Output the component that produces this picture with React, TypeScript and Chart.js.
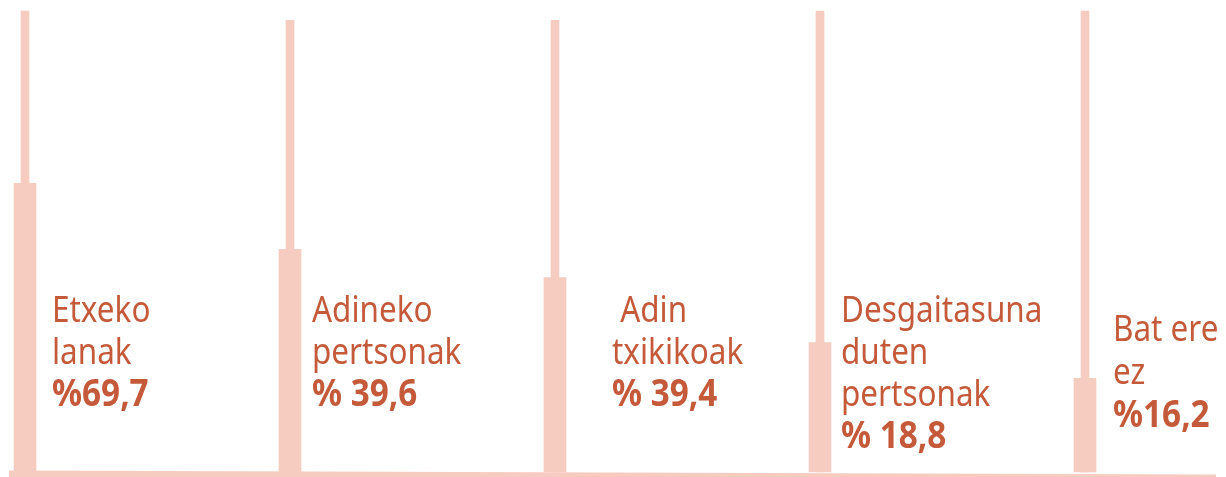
import React, { useEffect, useRef } from "react";
import { Chart, registerables } from "chart.js";

Chart.register(...registerables);

// Categories (multi-line labels, as written in the picture)
const categories: string[][] = [
  ["Etxeko", "lanak"],
  ["Adineko", "pertsonak"],
  [" Adin", "txikikoak"],
  ["Desgaitasuna", "duten", "pertsonak"],
  ["Bat ere", "ez"],
];

// Shares shown in the labels (%)
const shares: number[] = [69.7, 39.6, 39.4, 18.8, 16.2];
// whether the original writes a space after the % sign
const shareSpaced: boolean[] = [false, true, true, true, false];

// Heights of the drawn marks (0–100 relative scale)
const barLevels: number[] = [62.6, 48.3, 42.2, 28.1, 20.3];
const poleLevels: number[] = [100, 98, 98, 100, 100];

const shareLabels = shares.map(
  (v, i) => "%" + (shareSpaced[i] ? " " : "") + v.toFixed(1).replace(".", ",")
);

// layout (styling only)
const BAR_COLOR = "#F5CCBF";
const TEXT_COLOR = "#C55A3A";
const labelDx = [27, 22, 57, 21, 28];
const labelFirstBaseline = [322, 322, 322, 322, 341];
const labelGap = [42, 42, 42, 42, 43];
const FONT_SIZE = 37;
const X_SCALE = 0.85;
const X_SCALE_BOLD = 0.9;

const labelPlugin = {
  id: "sideLabels",
  beforeDatasetsDraw(chart: any) {
    const { ctx, chartArea } = chart;
    // slanted baseline
    ctx.save();
    ctx.fillStyle = BAR_COLOR;
    const x0 = chartArea.left - 16;
    const x1 = chart.width - 10;
    ctx.beginPath();
    ctx.moveTo(x0, chartArea.bottom - 1.5);
    ctx.lineTo(x1, chartArea.bottom + 2.5);
    ctx.lineTo(x1, chart.height + 2);
    ctx.lineTo(x0, chart.height + 2);
    ctx.closePath();
    ctx.fill();
    ctx.restore();
  },
  afterDatasetsDraw(chart: any) {
    const { ctx } = chart;
    const meta = chart.getDatasetMeta(1);
    ctx.save();
    ctx.fillStyle = TEXT_COLOR;
    ctx.textBaseline = "alphabetic";
    ctx.textAlign = "left";
    categories.forEach((lines, i) => {
      const bar = meta.data[i];
      const x = bar.x + labelDx[i];
      let y = labelFirstBaseline[i];
      const all = [...lines, shareLabels[i]];
      all.forEach((line, j) => {
        const bold = j === all.length - 1;
        ctx.save();
        ctx.font = `${bold ? 700 : 400} ${FONT_SIZE}px "Noto Sans", sans-serif`;
        ctx.translate(x, y);
        ctx.scale(bold ? X_SCALE_BOLD : X_SCALE, 1);
        ctx.fillText(line, 0, 0);
        ctx.restore();
        y += labelGap[i];
      });
    });
    ctx.restore();
  },
};

export default function App() {
  const ref = useRef<HTMLCanvasElement | null>(null);

  useEffect(() => {
    document.body.style.margin = "0";
    const canvas = ref.current!;
    const chart = new Chart(canvas, {
      type: "bar",
      data: {
        labels: categories.map((c) => c.join(" ")),
        datasets: [
          {
            label: "pole",
            data: poleLevels,
            backgroundColor: BAR_COLOR,
            barThickness: 8,
            grouped: false,
            clip: false,
            borderWidth: 0,
          } as any,
          {
            label: "bar",
            data: barLevels,
            backgroundColor: BAR_COLOR,
            barThickness: 22,
            grouped: false,
            clip: false,
            borderWidth: 0,
          } as any,
        ],
      },
      options: {
        animation: false,
        responsive: false,
        maintainAspectRatio: false,
        layout: { padding: { left: 25, right: 141, top: 11, bottom: 5 } },
        plugins: {
          legend: { display: false },
          tooltip: { enabled: false },
          title: { display: false },
        },
        scales: {
          x: { type: "category", offset: false, display: false },
          y: { type: "linear", min: 0, max: 100, display: false },
        },
      },
      plugins: [labelPlugin],
    });
    return () => chart.destroy();
  }, []);

  return (
    <div style={{ width: 1226, height: 477, background: "#fff" }}>
      <canvas ref={ref} width={1226} height={477} style={{ display: "block" }} />
    </div>
  );
}
